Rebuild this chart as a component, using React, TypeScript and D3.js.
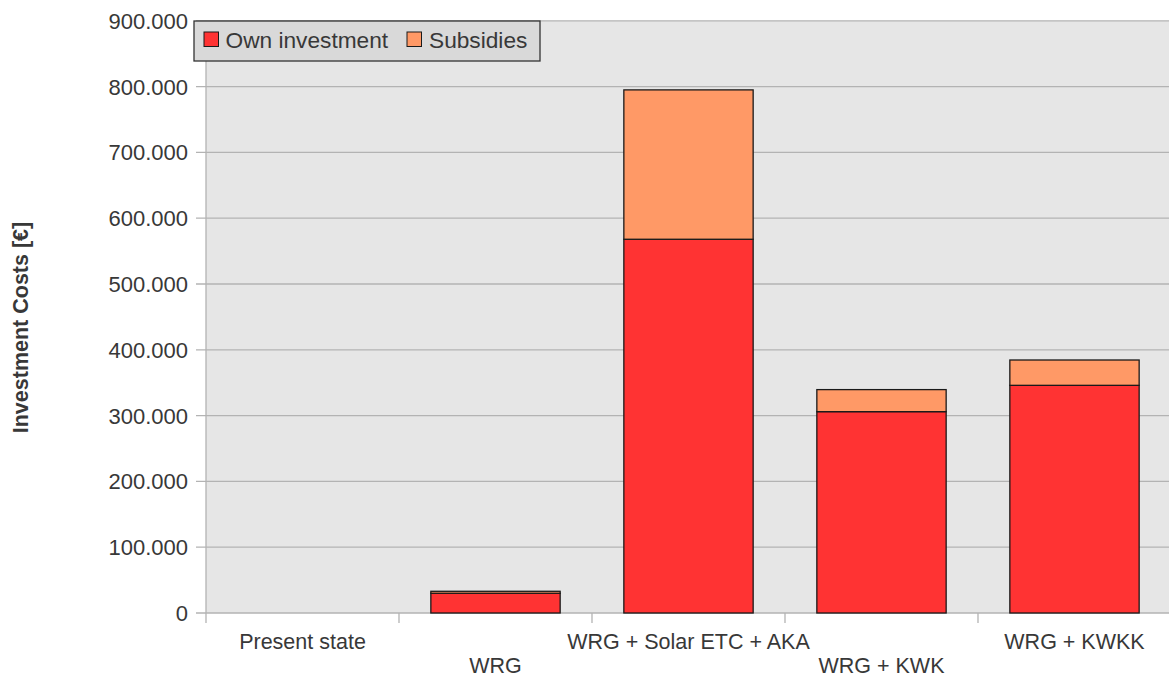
import React from "react";
import * as d3 from "d3";

const categories = ["Present state", "WRG", "WRG + Solar ETC + AKA", "WRG + KWK", "WRG + KWKK"];
const ownInvestment = [0, 30000, 568000, 306000, 346000];
const subsidies = [0, 3000, 227000, 33500, 38500];
const yTicks = [0, 100000, 200000, 300000, 400000, 500000, 600000, 700000, 800000, 900000];
const seriesNames = ["Own investment", "Subsidies"];
const seriesColors = ["#ff3333", "#ff9966"];

const W = 1169;
const H = 677;
const left = 206;
const right = 1171;
const top = 20.8;
const bottom = 613;
const font = "'Liberation Sans', Arial, sans-serif";
const textColor = "#383838";
const gridColor = "#b3b3b3";

const locale = d3.formatLocale({ decimal: ",", thousands: ".", grouping: [3], currency: ["", "€"] });
const fmt = locale.format(",d");

export default function App() {
  const x = d3.scaleBand<string>().domain(categories).range([left, right]).padding(0);
  const y = d3.scaleLinear().domain([0, 900000]).range([bottom, top]);
  const barW = x.bandwidth() * 0.67;

  const rows = categories.map((c, i) => ({ c, own: ownInvestment[i], sub: subsidies[i] }));
  const stack = d3.stack<any>().keys(["own", "sub"])(rows);

  const boundaries = categories.map((c) => x(c) as number);

  return (
    <div style={{ position: "fixed", left: 0, top: 0 }}>
      <svg width={W} height={H} style={{ display: "block", background: "#ffffff" }} fontFamily={font}>
        <rect x={left} y={top} width={right - left} height={bottom - top} fill="#e6e6e6" />
        {yTicks.map((t) => (
          <g key={t}>
            <line x1={left - 10} x2={right} y1={y(t)} y2={y(t)} stroke={gridColor} strokeWidth={1.3} />
            <text x={188} y={y(t)} dy="0.36em" textAnchor="end" fontSize={22} fill={textColor}>
              {fmt(t)}
            </text>
          </g>
        ))}
        <line x1={left} x2={left} y1={top} y2={bottom + 10} stroke={gridColor} strokeWidth={1.3} />
        {boundaries.slice(1).map((bx, i) => (
          <line key={i} x1={bx} x2={bx} y1={bottom} y2={bottom + 10} stroke={gridColor} strokeWidth={1.3} />
        ))}
        {stack.map((s, si) => (
          <g key={si}>
            {s.map((d, i) => {
              const h = y(d[0]) - y(d[1]);
              if (h <= 0) return null;
              const cx = (x(categories[i]) as number) + x.bandwidth() / 2;
              return (
                <rect
                  key={i}
                  x={cx - barW / 2}
                  y={y(d[1])}
                  width={barW}
                  height={h}
                  fill={seriesColors[si]}
                  stroke="#1a1a1a"
                  strokeWidth={1.3}
                />
              );
            })}
          </g>
        ))}
        {categories.map((c, i) => (
          <text
            key={c}
            x={(x(c) as number) + x.bandwidth() / 2}
            y={i % 2 === 0 ? 649 : 673}
            textAnchor="middle"
            fontSize={21.5}
            fill={textColor}
          >
            {c}
          </text>
        ))}
        <text
          transform="translate(27.5,327.5) rotate(-90)"
          textAnchor="middle"
          fontSize={21.5}
          fontWeight="bold"
          fill={textColor}
        >
          Investment Costs [€]
        </text>
        <g>
          <rect x={194} y={21} width={346} height={40} fill="#d9d9d9" stroke="#333333" strokeWidth={1.3} />
          {[
            { sx: 204, tx: 225.5 },
            { sx: 407, tx: 429 },
          ].map((p, i) => (
            <g key={i}>
              <rect x={p.sx} y={32} width={14.5} height={14.5} fill={seriesColors[i]} stroke="#1a1a1a" strokeWidth={1} />
              <text x={p.tx} y={47.5} fontSize={22.7} fill={textColor}>
                {seriesNames[i]}
              </text>
            </g>
          ))}
        </g>
      </svg>
    </div>
  );
}
